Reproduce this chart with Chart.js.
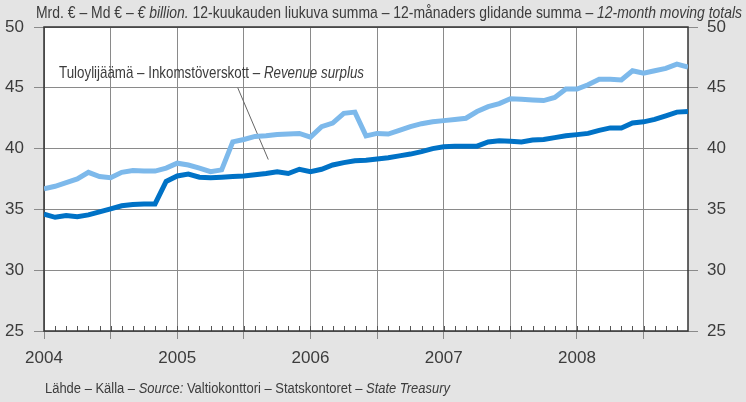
<!DOCTYPE html>
<html>
<head>
<meta charset="utf-8">
<script src="https://cdn.jsdelivr.net/npm/chart.js@4"></script>
<style>
	html, body { margin: 0; padding: 0; background: #e4e4e4; }
	#wrap { width: 746px; height: 402px; position: relative; }
</style>
</head>
<body>
<div id="wrap"><canvas id="myChart"></canvas></div>
<script>
// months since Jan 2004
const startYear = 2004;
const yearLabels = ["2004", "2005", "2006", "2007", "2008"];
const yTicks = [25, 30, 35, 40, 45, 50];

// light blue line (upper)
const revenue = [
	36.7, 36.9, 37.2, 37.5, 38.05, 37.7, 37.6, 38.05, 38.2, 38.15, 38.15, 38.4,
	38.8, 38.65, 38.4, 38.1, 38.25, 40.55, 40.75, 41.0, 41.05, 41.15, 41.2, 41.25,
	40.95, 41.8, 42.1, 42.9, 43.0, 41.05, 41.25, 41.2, 41.5, 41.8, 42.05, 42.2,
	42.3, 42.4, 42.5, 43.05, 43.45, 43.7, 44.1, 44.05, 44.0, 43.95, 44.2, 44.9,
	44.9, 45.25, 45.7, 45.7, 45.65, 46.4, 46.2, 46.4, 46.6, 46.95, 46.7
];
// dark blue line (lower)
const expenditure = [
	34.6, 34.35, 34.5, 34.4, 34.55, 34.8, 35.05, 35.3, 35.4, 35.45, 35.45, 37.3,
	37.75, 37.9, 37.65, 37.6, 37.65, 37.7, 37.75, 37.85, 37.95, 38.1, 37.95, 38.3,
	38.1, 38.3, 38.65, 38.85, 39.0, 39.05, 39.15, 39.25, 39.4, 39.55, 39.75, 40.0,
	40.15, 40.2, 40.2, 40.2, 40.55, 40.65, 40.6, 40.55, 40.7, 40.75, 40.9, 41.05,
	41.15, 41.25, 41.5, 41.7, 41.7, 42.1, 42.2, 42.4, 42.7, 43.0, 43.05
];

const headerRuns = [
	["Mrd. € – Md € – ", false],
	["€ billion.", true],
	[" 12-kuukauden liukuva summa – 12-månaders glidande summa – ", false],
	["12-month moving totals", true],
];
const labelRuns = [
	["Tuloylijäämä – Inkomstöverskott – ", false],
	["Revenue surplus", true],
];
const footerRuns = [
	["Lähde – Källa – ", false],
	["Source:", true],
	[" Valtiokonttori – Statskontoret – ", false],
	["State Treasury", true],
];
// leader line of the label, in data units (month, value)
const leader = [[17.45, 45.0], [20.2, 39.1]];

const FONT = "'Liberation Sans Narrow', 'Liberation Sans', sans-serif";
const TEXT = "#3c3c3c";
const lastMonth = revenue.length - 1;

function drawRuns(ctx, runs, x, y, size, width) {
	ctx.save();
	ctx.fillStyle = TEXT;
	ctx.textBaseline = "middle";
	ctx.textAlign = "left";
	var total = 0;
	runs.forEach((r) => {
		ctx.font = (r[1] ? "italic " : "") + size + "px " + FONT;
		total += ctx.measureText(r[0]).width;
	});
	var k = width ? width / total : 1;
	ctx.translate(x, y);
	ctx.scale(k, 1);
	var cx = 0;
	runs.forEach((r) => {
		ctx.font = (r[1] ? "italic " : "") + size + "px " + FONT;
		ctx.fillText(r[0], cx, 0);
		cx += ctx.measureText(r[0]).width;
	});
	ctx.restore();
}

const decor = {
	id: "decor",
	beforeDraw(chart) {
		const ctx = chart.ctx, a = chart.chartArea;
		ctx.save();
		ctx.fillStyle = "#e4e4e4";
		ctx.fillRect(0, 0, chart.width, chart.height);
		ctx.fillStyle = "#ffffff";
		ctx.fillRect(a.left, a.top, a.right - a.left, a.bottom - a.top);
		ctx.restore();
	},
	beforeDatasetsDraw(chart) {
		const ctx = chart.ctx, a = chart.chartArea, x = chart.scales.x;
		ctx.save();
		// monthly minor ticks
		ctx.strokeStyle = "#555";
		ctx.lineWidth = 1;
		ctx.beginPath();
		for (let m = 1; m < lastMonth; m++) {
			const px = Math.round(x.getPixelForValue(m)) + 0.5;
			ctx.moveTo(px, a.bottom);
			ctx.lineTo(px, a.bottom - 5);
		}
		ctx.stroke();
		// frame
		ctx.strokeStyle = "#333";
		ctx.lineWidth = 1.5;
		ctx.strokeRect(a.left, a.top, a.right - a.left, a.bottom - a.top);
		// leader line
		const y = chart.scales.y;
		ctx.strokeStyle = "#666";
		ctx.lineWidth = 1;
		ctx.beginPath();
		ctx.moveTo(x.getPixelForValue(leader[0][0]), y.getPixelForValue(leader[0][1]));
		ctx.lineTo(x.getPixelForValue(leader[1][0]), y.getPixelForValue(leader[1][1]));
		ctx.stroke();
		ctx.restore();
	},
	afterDraw(chart) {
		const ctx = chart.ctx;
		drawRuns(ctx, headerRuns, 36, 13, 17, 706);
		drawRuns(ctx, labelRuns, 59, 73, 17, 305);
		drawRuns(ctx, footerRuns, 45, 389, 14, 405);
	},
};

const chartCanvas = document.getElementById("myChart").getContext("2d");

const chart = new Chart(chartCanvas, {
	type: "line",
	data: {
		datasets: [
			{
				label: "revenue",
				data: revenue.map((v, i) => ({ x: i, y: v })),
				borderColor: "rgb(125, 185, 235)",
				borderWidth: 5,
				pointRadius: 0,
				tension: 0,
				yAxisID: "y",
			},
			{
				label: "expenditure",
				data: expenditure.map((v, i) => ({ x: i, y: v })),
				borderColor: "rgb(0, 114, 198)",
				borderWidth: 5,
				pointRadius: 0,
				tension: 0,
				yAxisID: "y",
			},
		],
	},
	options: {
		responsive: true,
		maintainAspectRatio: false,
		animation: false,
		layout: { padding: { top: 27, left: 0, right: 0, bottom: 0 } },
		plugins: {
			legend: { display: false },
			tooltip: { enabled: false },
		},
		scales: {
			x: {
				type: "linear",
				min: 0,
				max: lastMonth,
				afterBuildTicks: (s) => {
					var t = [];
					for (let m = 0; m < lastMonth; m += 6) t.push({ value: m });
					s.ticks = t;
				},
				afterFit: (s) => { s.height = 71; },
				grid: { color: "#8a8a8a", lineWidth: 1, tickLength: 8, drawTicks: true },
				border: { display: false },
				ticks: {
					autoSkip: false,
					maxRotation: 0,
					padding: 9,
					color: TEXT,
					font: { family: FONT, size: 17 },
					callback: (v) => (v % 12 === 0 ? yearLabels[v / 12] : ""),
				},
			},
			y: {
				position: "left",
				min: yTicks[0],
				max: yTicks[yTicks.length - 1],
				afterFit: (s) => { s.width = 44; },
				grid: { color: "#8a8a8a", lineWidth: 1, tickLength: 10 },
				border: { display: false },
				ticks: { stepSize: 5, padding: 10, color: TEXT, font: { family: FONT, size: 17 } },
			},
			y2: {
				position: "right",
				min: yTicks[0],
				max: yTicks[yTicks.length - 1],
				afterFit: (s) => { s.width = 58; },
				grid: { drawOnChartArea: false, color: "#8a8a8a", tickLength: 10 },
				border: { display: false },
				ticks: { stepSize: 5, padding: 9, color: TEXT, font: { family: FONT, size: 17 } },
			},
		},
	},
	plugins: [decor],
});
</script>
</body>
</html>
